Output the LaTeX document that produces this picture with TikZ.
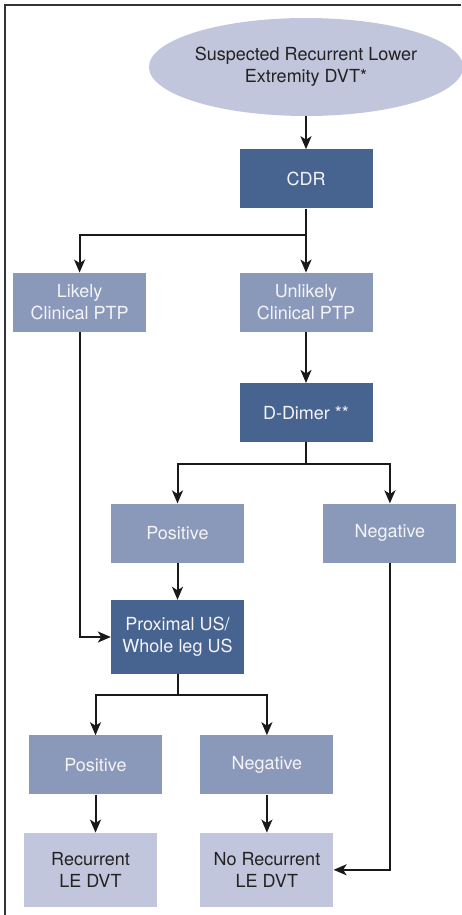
\documentclass[tikz,border=0pt]{standalone}
\usepackage{fontspec}
\setmainfont{TeX Gyre Heros}
\usepackage{tikz}
\usetikzlibrary{positioning, shapes.geometric, arrows.meta, calc}
\usepackage{xcolor}
\definecolor{darkblue}{HTML}{46648F}
\definecolor{midblue}{HTML}{8A98BA}
\definecolor{paleblue}{HTML}{C2C6DC}
\definecolor{boxtext}{HTML}{F4F4F8}
\definecolor{inktext}{HTML}{222222}

\begin{document}
\begin{tikzpicture}[
  every node/.style={font=\fontsize{18}{22}\selectfont, align=center, inner sep=0pt},
  start/.style={ellipse, fill=paleblue, text=inktext, minimum width=278pt, minimum height=98pt},
  test/.style={rectangle, fill=darkblue, text=boxtext, minimum width=133pt, minimum height=59pt},
  result/.style={rectangle, fill=midblue, text=boxtext, minimum width=133pt, minimum height=59pt},
  outcome/.style={rectangle, fill=paleblue, text=inktext, minimum width=133pt, minimum height=74pt},
  arrow/.style={-{Stealth[length=13pt, width=11pt, inset=3.5pt]}, line width=2pt, black!90},
  frame/.style={line width=1.6pt, black!80}
]
\useasboundingbox (0,0) rectangle (461pt,-915pt);
\draw[frame] (5pt,-915pt) -- (5pt,-5pt) -- (461pt,-5pt);

% Core Nodes
\node[start] (susp) at (306pt,-67pt) {Suspected Recurrent Lower\\ Extremity DVT*};
\node[test] (cdr) [below=33pt of susp] {CDR};

% Pretest probability
\node[result] (unlikely) [below=64pt of cdr] {Unlikely\\ Clinical PTP};
\node[result] (likely) [left=93pt of unlikely] {Likely\\ Clinical PTP};
\node[test] (ddimer) [below=51pt of unlikely] {D-Dimer **};

% D-Dimer results
\node[result] (pos1) [below=61pt of ddimer, xshift=-128.5pt] {Positive};
\node[result] (neg1) [right=79pt of pos1] {Negative};
\node[test, minimum height=74pt] (prox) [below=37pt of pos1] {Proximal US/\\ Whole leg US};

% US results
\node[result] (pos2) [below=61pt of prox, xshift=-82pt] {Positive};
\node[result] (neg2) [right=38pt of pos2] {Negative};
\node[outcome] (rec) [below=38pt of pos2, xshift=-5pt] {Recurrent\\ LE DVT};
\node[outcome] (norec) [below=38pt of neg2] {No Recurrent\\ LE DVT};

% Arrows
\draw[arrow] (susp) -- (cdr);
\draw[arrow] (cdr) -- (unlikely);
\draw[arrow] (cdr.south) -- ++(0,-26pt) -| (likely.north);
\draw[arrow] (unlikely) -- (ddimer);
\draw[arrow] (ddimer.south) -- ++(0,-22pt) -| (pos1.north);
\draw[arrow] (ddimer.south) -- ++(0,-22pt) -| (neg1.north);
\draw[arrow] (pos1) -- (prox);
\draw[arrow] (likely.south) |- (prox.west);
\draw[arrow] (prox.south) -- ++(0,-21pt) -| (pos2.north);
\draw[arrow] (prox.south) -- ++(0,-21pt) -| (neg2.north);
\draw[arrow] (pos2.south) -- (pos2.south |- rec.north);
\draw[arrow] (neg2) -- (norec);
\draw[arrow] (neg1.south) |- (norec.east);

\end{tikzpicture}
\end{document}
